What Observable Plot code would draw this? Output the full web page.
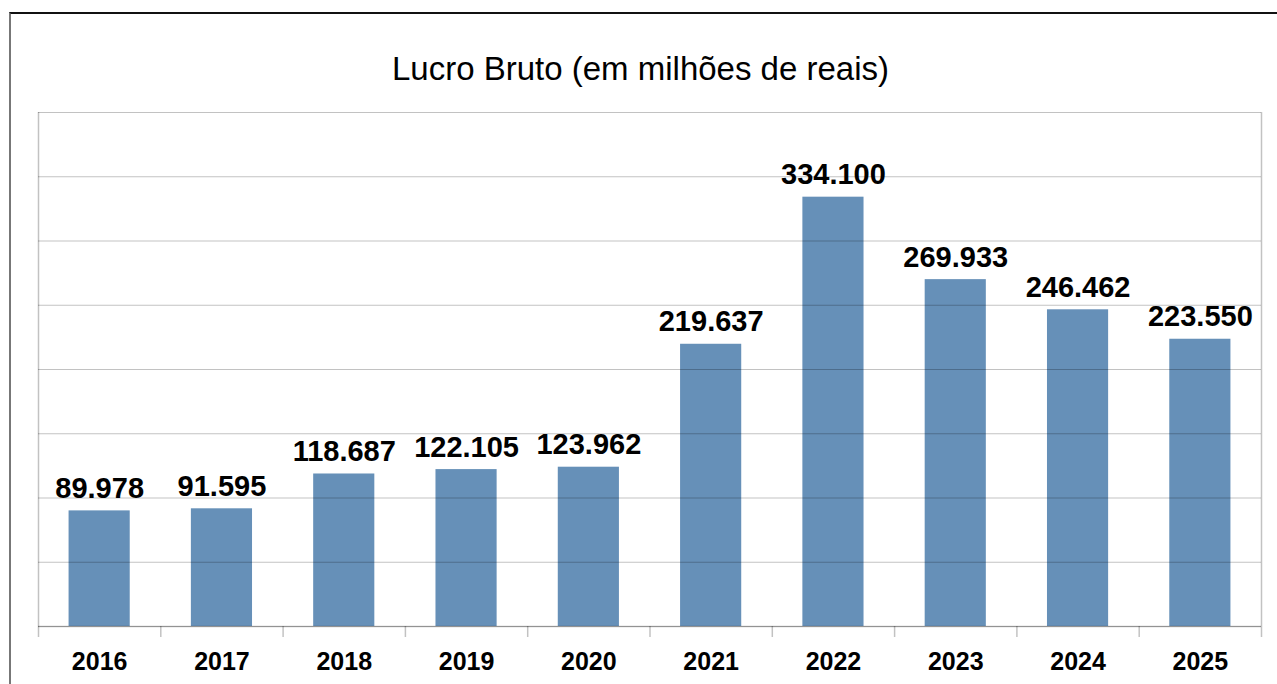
<!DOCTYPE html>
<html>
<head>
<meta charset="utf-8">
<script src="https://cdn.jsdelivr.net/npm/d3@7"></script>
<script src="https://cdn.jsdelivr.net/npm/@observablehq/plot@0.6"></script>
<style>
  html, body { margin: 0; padding: 0; background: #fff; }
  body { width: 1277px; height: 684px; overflow: hidden; position: relative; font-family: "Liberation Sans", Arial, sans-serif; }
  #border { position: absolute; left: 9px; top: 12px; width: 1400px; height: 800px; border-top: 2px solid #111; border-left: 2px solid #777; box-sizing: border-box; }
  #title { position: absolute; top: 52px; left: 2px; width: 1277px; text-align: center; font-size: 33px; line-height: 33px; color: #000; }
  #chart { position: absolute; left: 0; top: 100px; }
</style>
</head>
<body>
<div id="border"></div>
<div id="title">Lucro Bruto (em milhões de reais)</div>
<div id="chart"></div>
<script>
const years = ["2016","2017","2018","2019","2020","2021","2022","2023","2024","2025"];
const values = [89.978, 91.595, 118.687, 122.105, 123.962, 219.637, 334.100, 269.933, 246.462, 223.550];
const labels = ["89.978","91.595","118.687","122.105","123.962","219.637","334.100","269.933","246.462","223.550"];
const gridTicks = [0, 50, 100, 150, 200, 250, 300, 350, 400];

const data = years.map((y, i) => ({year: y, i, value: values[i], label: labels[i]}));
const boundaries = d3.range(years.length + 1);

const chart = Plot.plot({
  width: 1277,
  height: 584,
  marginLeft: 38,
  marginRight: 16,
  marginTop: 12,
  marginBottom: 58,
  style: {fontFamily: "'Liberation Sans', Arial, sans-serif", background: "transparent"},
  x: {domain: [0, years.length], axis: null},
  y: {domain: [0, 400], axis: null},
  marks: [
    Plot.rectY(data, {x1: d => d.i + 0.25, x2: d => d.i + 0.75, y1: 0, y2: "value", fill: "#6690b8"}),
    Plot.ruleY(gridTicks, {stroke: "#000", strokeOpacity: 0.24, strokeWidth: 1}),
    Plot.ruleX([0, years.length], {stroke: "#000", strokeOpacity: 0.24, strokeWidth: 1.5}),
    Plot.ruleY([0], {stroke: "#000", strokeOpacity: 0.24, strokeWidth: 1.5}),
    Plot.ruleX(boundaries, {x: d => d, y1: 0, y2: 0, stroke: "#000", strokeOpacity: 0.24, strokeWidth: 1.5, insetBottom: -11}),
    Plot.text(data, {x: d => d.i + 0.5, y: "value", text: "label", lineAnchor: "bottom", dy: -13, fontSize: 29, fontWeight: "bold", fill: "#000"}),
    Plot.text(data, {x: d => d.i + 0.5, y: 0, text: "year", lineAnchor: "bottom", dy: 43, fontSize: 25, fontWeight: "bold", fill: "#000"})
  ]
});
document.getElementById("chart").appendChild(chart);
</script>
</body>
</html>
